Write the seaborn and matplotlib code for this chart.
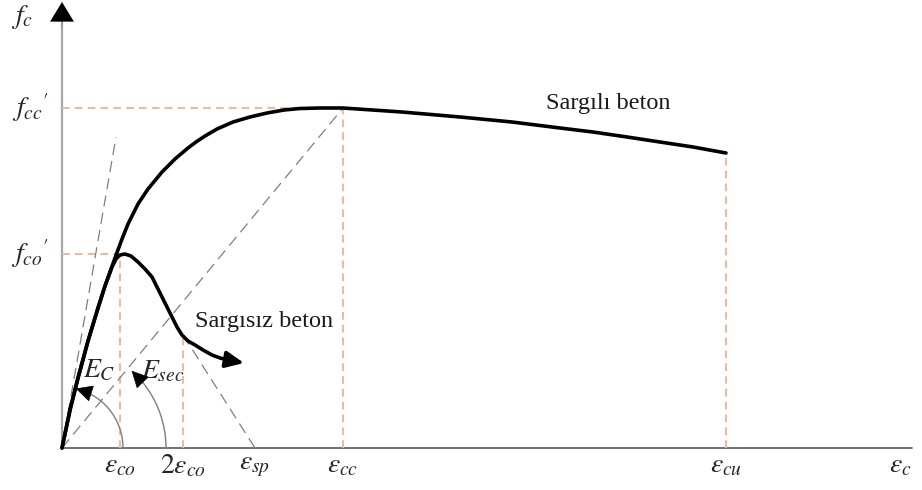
import numpy as np
import pandas as pd
import seaborn as sns
import matplotlib
matplotlib.use("Agg")
import matplotlib.pyplot as plt

# ---- data (strain axis x, stress axis y, arbitrary schematic units) ----
conf_x = [0, 8, 16, 26, 36, 43, 53, 60, 66, 76, 86, 100, 113, 126, 134, 143, 155,
          171, 188, 205, 222, 238, 258, 281, 340, 398, 450, 498, 531, 565, 598, 631, 664]
conf_y = [0, 38, 70, 107, 140, 162, 190, 209, 224, 244, 259, 276, 289, 300, 306, 312, 319,
          326, 331, 335, 338, 339.5, 340, 340, 336, 331, 326, 320, 316, 311, 306, 301, 295]

unconf_x = [0, 8, 16, 26, 36, 43, 50, 54, 58, 63, 69, 76, 83, 90, 95, 100, 105, 110, 115,
            120, 126, 133, 141, 150, 158, 166]
unconf_y = [0, 38, 70, 107, 140, 162, 181, 189, 193, 194, 192, 186, 179, 171, 161, 151, 141, 131, 121,
            113, 107, 103, 98, 93, 90, 88]
unconf_tip = (182, 85)

eps_co, eps_2co, eps_sp, eps_cc, eps_cu = 58, 121, 193, 281, 664
f_co, f_cc, f_cu, f_2co = 194, 340, 295, 113
tangent_end = (54, 311)

x_tick_pos = [eps_co, eps_2co, eps_sp, eps_cc, eps_cu]
x_tick_lab = [r"$\varepsilon_{co}$", r"$2\varepsilon_{co}$", r"$\varepsilon_{sp}$",
              r"$\varepsilon_{cc}$", r"$\varepsilon_{cu}$"]
y_tick_pos = [f_co, f_cc]
y_tick_lab = [r"$f_{co}{'}$", r"$f_{cc}{'}$"]

# ---- style ----
sns.set_theme(style="white")
plt.rcParams["mathtext.fontset"] = "stix"
plt.rcParams["font.family"] = ["Liberation Serif", "DejaVu Serif"]

fig = plt.figure(figsize=(9.22, 4.9), dpi=100)
ax = fig.add_axes([0, 0, 1, 1])

orange = "#F5B794"
gray = "#7f7f7f"
odash = dict(color=orange, lw=1.4, dashes=(4, 2.6))
gdash = dict(color=gray, lw=0.9, dashes=(9, 5))

# axes
ax.plot([0, 0], [0, 428], color="#a6a6a6", lw=1.6, zorder=1)
ax.plot([0, 850], [0, 0], color="#595959", lw=1.2, zorder=1)
ax.annotate("", xy=(0, 446), xytext=(0, 420),
            arrowprops=dict(arrowstyle="-|>,head_length=1.4,head_width=0.85",
                            mutation_scale=10, color="black", lw=0.1,
                            shrinkA=0, shrinkB=0))
ax.annotate("", xy=(862, 0), xytext=(840, 0),
            arrowprops=dict(arrowstyle="-|>,head_length=1.2,head_width=0.8",
                            mutation_scale=10, color="black", lw=0.1,
                            shrinkA=0, shrinkB=0))

# orange guide lines
ax.plot([0, eps_cc], [f_cc, f_cc], **odash, zorder=2)
ax.plot([eps_cc, eps_cc], [0, f_cc], **odash, zorder=2)
ax.plot([0, eps_co], [f_co, f_co], **odash, zorder=2)
ax.plot([eps_co, eps_co], [0, f_co], **odash, zorder=2)
ax.plot([eps_2co, eps_2co], [0, f_2co], **odash, zorder=2)
ax.plot([eps_cu, eps_cu], [0, f_cu], **odash, zorder=2)

# gray dashed construction lines
ax.plot([0, tangent_end[0]], [0, tangent_end[1]], **gdash, zorder=2)
ax.plot([0, eps_cc], [0, f_cc], **gdash, zorder=2)
ax.plot([eps_2co, eps_sp], [f_2co, 0], **gdash, zorder=2)

# curves
df_c = pd.DataFrame({"x": conf_x, "y": conf_y})
df_u = pd.DataFrame({"x": unconf_x, "y": unconf_y})
sns.lineplot(data=df_c, x="x", y="y", sort=False, estimator=None, color="black",
             lw=2.6, ax=ax, zorder=4, solid_joinstyle="round", solid_capstyle="round")
sns.lineplot(data=df_u, x="x", y="y", sort=False, estimator=None, color="black",
             lw=2.6, ax=ax, zorder=4, solid_joinstyle="round", solid_capstyle="round")
ax.annotate("", xy=unconf_tip, xytext=(unconf_x[-1], unconf_y[-1]),
            arrowprops=dict(arrowstyle="-|>,head_length=1.1,head_width=0.5",
                            mutation_scale=10, color="black", lw=2.6,
                            shrinkA=0, shrinkB=0), zorder=5)

# angle arcs
def arc(r, a_end):
    th = np.radians(np.linspace(0, a_end - 6, 60))
    ax.plot(r * np.cos(th), r * np.sin(th), color=gray, lw=1.0, zorder=3)
    tt = np.radians(a_end)
    ta = np.radians(a_end - 9)
    ax.annotate("", xy=(r * np.cos(tt), r * np.sin(tt)),
                xytext=(r * np.cos(ta), r * np.sin(ta)),
                arrowprops=dict(arrowstyle="-|>,head_length=1.1,head_width=0.55",
                                mutation_scale=10, color="black", lw=0.5,
                                shrinkA=0, shrinkB=0), zorder=5)

arc(61, 77)
arc(104, 48)

# labels
mfs = 20
for p, lab in zip(x_tick_pos, x_tick_lab):
    ax.text(p, -18, lab, ha="center", va="center", fontsize=mfs)
ax.text(838, -18, r"$\varepsilon_c$", ha="center", va="center", fontsize=mfs)
for p, lab in zip(y_tick_pos, y_tick_lab):
    ax.text(-32, p, lab, ha="center", va="center", fontsize=mfs)
ax.text(-40, 431, r"$f_c$", ha="center", va="center", fontsize=mfs)
ax.text(37, 77, r"$E_C$", ha="center", va="center", fontsize=mfs)
ax.text(101, 76, r"$E_{sec}$", ha="center", va="center", fontsize=mfs)
ax.text(546, 345, "Sargılı beton", ha="center", va="center", fontsize=17.5, color="#1a1a1a")
ax.text(202, 126, "Sargısız beton", ha="center", va="center", fontsize=17.5, color="#1a1a1a")

ax.set_xlim(-62, 860)
ax.set_ylim(-42, 448)
ax.axis("off")

fig.savefig("out.png", dpi=100)
